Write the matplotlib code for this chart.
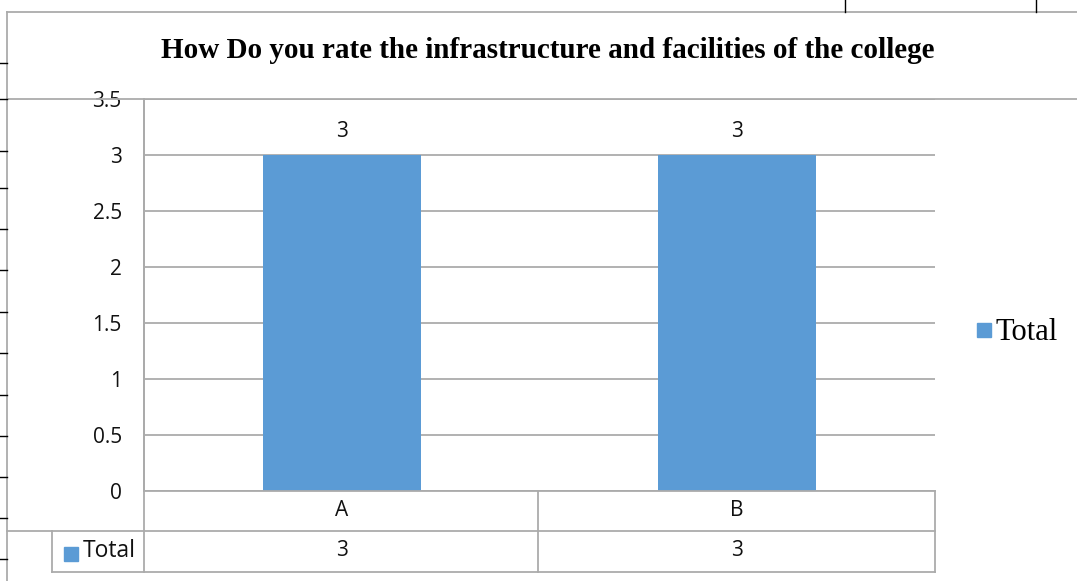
import matplotlib.pyplot as plt
from matplotlib.lines import Line2D
from matplotlib.patches import Rectangle
from matplotlib.transforms import blended_transform_factory

categories = ['A', 'B']
totals = [3, 3]
series_name = 'Total'
title = 'How Do you rate the infrastructure and facilities of the college'
yticks = [0, 0.5, 1, 1.5, 2, 2.5, 3, 3.5]

W, H = 1077, 581
bar_color = '#5B9BD5'
grid_color = '#ABABAB'
txt_color = '#111111'
sans = ['Open Sans', 'DejaVu Sans']
serif = ['Liberation Serif', 'DejaVu Serif']
fs = 15

fig = plt.figure(figsize=(W / 100, H / 100), dpi=100)


def fx(x):
    return x / W


def fy(y):
    return 1 - y / H


def hline(x0, x1, y, color=grid_color, lw=1.3):
    fig.add_artist(Line2D([fx(x0), fx(x1)], [fy(y), fy(y)], color=color, lw=lw))


def vline(x, y0, y1, color=grid_color, lw=1.3):
    fig.add_artist(Line2D([fx(x), fx(x)], [fy(y0), fy(y1)], color=color, lw=lw))


# plot area in pixels
left, top, right, bottom = 144, 99, 935, 491
ax = fig.add_axes([fx(left), fy(bottom), fx(right - left), (bottom - top) / H])

x = list(range(len(categories)))
ax.bar(x, totals, width=0.4, color=bar_color, zorder=3)
for xi, v in zip(x, totals):
    ax.text(xi, v + 0.21, f'{v:g}', ha='center', va='center', fontsize=fs,
            family=sans, color=txt_color)

ax.set_xlim(-0.5, len(categories) - 0.5)
ax.set_ylim(0, 3.5)
ax.set_yticks(yticks)
ax.set_yticklabels([f'{t:g}' for t in yticks], fontsize=fs, family=sans, color=txt_color)
ax.tick_params(axis='y', length=0, pad=16)
ax.set_xticks([])
ax.grid(axis='y', color=grid_color, lw=1.3, zorder=0)
for s in ['top', 'right', 'bottom']:
    ax.spines[s].set_visible(False)
ax.spines['left'].set_color(grid_color)
ax.spines['left'].set_linewidth(1.3)

# data table under the chart
tr = blended_transform_factory(ax.transData, fig.transFigure)
for xi, c, v in zip(x, categories, totals):
    ax.text(xi, fy(511), c, transform=tr, ha='center', va='center', fontsize=fs,
            family=sans, color=txt_color)
    ax.text(xi, fy(551), f'{v:g}', transform=tr, ha='center', va='center', fontsize=fs,
            family=sans, color=txt_color)

hline(left, right, 491)
hline(7, right, 531)
hline(52, right, 572)
vline(left, 99, 572)
vline(538, 491, 572)
vline(right, 491, 572)
vline(52, 531, 572)
fig.add_artist(Rectangle((fx(64), fy(561)), fx(14), 14 / H, color=bar_color))
fig.text(fx(83), fy(551), series_name, ha='left', va='center', fontsize=16.5,
         family=sans, color=txt_color)

# outer frame
hline(7, W, 12)
hline(7, W, 99)
vline(7, 12, H)
vline(845, 0, 12, color='black', lw=1)
vline(1036, 0, 12, color='black', lw=1)
for yy in [63, 99, 151, 188, 229, 270, 312, 353, 395, 436, 477, 518, 559]:
    hline(0, 7, yy, color='black', lw=1)

# title and legend
fig.text(fx(548), fy(51), title, ha='center', va='center', fontsize=21,
         fontweight='bold', family=serif)
fig.add_artist(Rectangle((fx(977), fy(337)), fx(14), 14 / H, color=bar_color))
fig.text(fx(996), fy(333), series_name, ha='left', va='center', fontsize=22,
         family=serif)

fig.savefig('out.png', dpi=100)
